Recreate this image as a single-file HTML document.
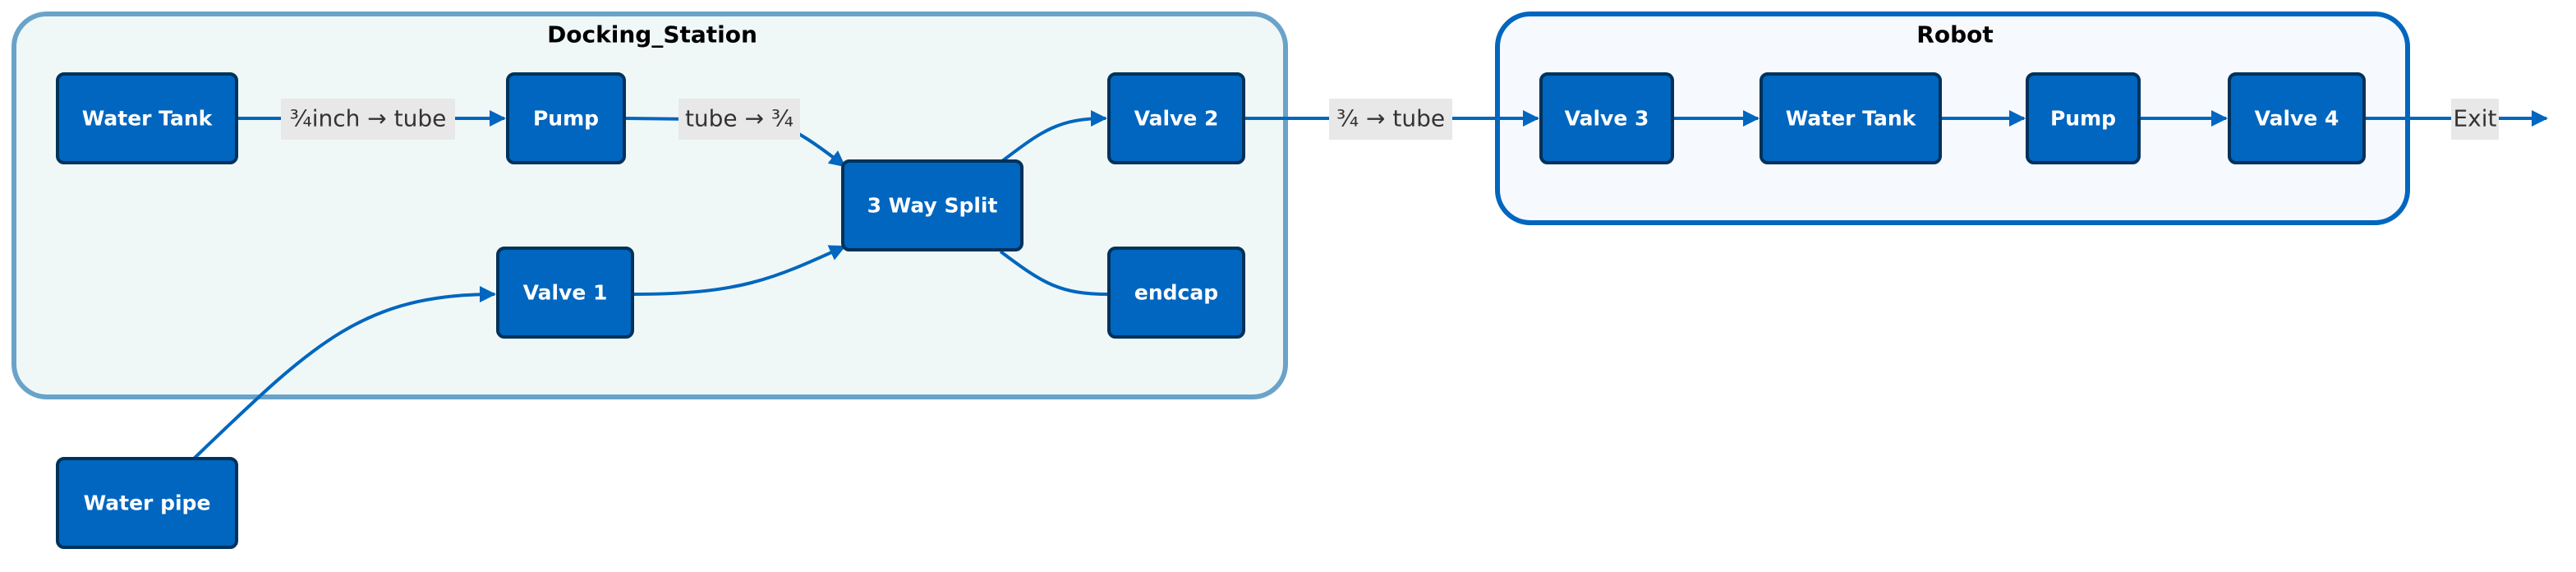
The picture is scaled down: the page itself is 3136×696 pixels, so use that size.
<!DOCTYPE html>
<html><head><meta charset="utf-8"><style>
html,body{margin:0;padding:0;background:#fff;}
svg{display:block;}
text{font-family:"DejaVu Sans","Liberation Sans",sans-serif;}
.n{fill:#0066bf;stroke:#00325a;stroke-width:4;}
.nt{fill:#fff;font-weight:bold;font-size:25px;text-anchor:middle;dominant-baseline:central;}
.e{fill:none;stroke:#0066bf;stroke-width:4;}
.lb{fill:#e8e8e8;}
.lt{fill:#333;font-size:28px;text-anchor:middle;dominant-baseline:central;}
</style></head><body>
<svg width="3136" height="696" viewBox="0 0 3136 696" xmlns="http://www.w3.org/2000/svg">
<defs>
<marker id="a" viewBox="0 0 10 10" refX="9" refY="5" markerWidth="5" markerHeight="5" orient="auto" markerUnits="strokeWidth">
<path d="M0,0 L10,5 L0,10 z" fill="#0066bf"/></marker>
</defs>
<rect x="17" y="17" width="1548" height="466" rx="40" fill="#f0f8f7" stroke="#6aa3c9" stroke-width="6"/>
<text x="794" y="42" font-size="28" font-weight="bold" text-anchor="middle" dominant-baseline="central" fill="#000">Docking_Station</text>
<rect x="1823" y="17" width="1108" height="254" rx="40" fill="#f6f9fe" stroke="#0066bf" stroke-width="6"/>
<text x="2380" y="42" font-size="28" font-weight="bold" text-anchor="middle" dominant-baseline="central" fill="#000">Robot</text>

<path class="e" d="M288,144 L614,144" marker-end="url(#a)"/>
<path class="e" d="M760,144 L930,146 C960,150 1000,180 1028,202" marker-end="url(#a)"/>
<path class="e" d="M770,358 C900,358 940,340 1028,300" marker-end="url(#a)"/>
<path class="e" d="M1220,196 C1270,158 1290,144 1346,144" marker-end="url(#a)"/>
<path class="e" d="M1218,306 C1270,345 1290,358 1350,358"/>
<path class="e" d="M236,558 C380,420 440,358 602,358" marker-end="url(#a)"/>
<path class="e" d="M1514,144 L1872,144" marker-end="url(#a)"/>
<path class="e" d="M2036,144 L2140,144" marker-end="url(#a)"/>
<path class="e" d="M2362,144 L2464,144" marker-end="url(#a)"/>
<path class="e" d="M2604,144 L2710,144" marker-end="url(#a)"/>
<path class="e" d="M2878,144 L3100,144" marker-end="url(#a)"/>

<rect class="lb" x="342" y="120" width="212" height="50"/><text class="lt" x="448" y="144">¾inch → tube</text>
<rect class="lb" x="826" y="120" width="148" height="50"/><text class="lt" x="900" y="144">tube → ¾</text>
<rect class="lb" x="1618" y="120" width="150" height="50"/><text class="lt" x="1693" y="144">¾ → tube</text>
<rect class="lb" x="2984" y="120" width="58" height="50"/><text class="lt" x="3013" y="144">Exit</text>

<rect class="n" x="70" y="90" width="218" height="108" rx="8"/><text class="nt" x="179" y="144">Water Tank</text>
<rect class="n" x="618" y="90" width="142" height="108" rx="8"/><text class="nt" x="689" y="144">Pump</text>
<rect class="n" x="1026" y="196" width="218" height="108" rx="8"/><text class="nt" x="1135" y="250">3 Way Split</text>
<rect class="n" x="1350" y="90" width="164" height="108" rx="8"/><text class="nt" x="1432" y="144">Valve 2</text>
<rect class="n" x="1350" y="302" width="164" height="108" rx="8"/><text class="nt" x="1432" y="356">endcap</text>
<rect class="n" x="606" y="302" width="164" height="108" rx="8"/><text class="nt" x="688" y="356">Valve 1</text>
<rect class="n" x="70" y="558" width="218" height="108" rx="8"/><text class="nt" x="179" y="612">Water pipe</text>
<rect class="n" x="1876" y="90" width="160" height="108" rx="8"/><text class="nt" x="1956" y="144">Valve 3</text>
<rect class="n" x="2144" y="90" width="218" height="108" rx="8"/><text class="nt" x="2253" y="144">Water Tank</text>
<rect class="n" x="2468" y="90" width="136" height="108" rx="8"/><text class="nt" x="2536" y="144">Pump</text>
<rect class="n" x="2714" y="90" width="164" height="108" rx="8"/><text class="nt" x="2796" y="144">Valve 4</text>
</svg>
</body></html>
